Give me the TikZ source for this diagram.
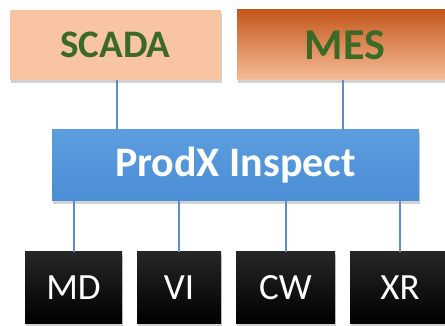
\documentclass[tikz,border=0pt]{standalone}
\usepackage{fontspec}
\setmainfont{Carlito}
\usetikzlibrary{shadows}
\definecolor{peach}{HTML}{F8C4A2}
\definecolor{mestop}{HTML}{C4581C}
\definecolor{mesbot}{HTML}{F6BC98}
\definecolor{txtgreen}{HTML}{3B6A26}
\definecolor{boxblue}{HTML}{4A8ED6}
\definecolor{boxbluetop}{HTML}{5C9DDE}
\definecolor{linkblue}{HTML}{5B8FC9}
\tikzset{
  box/.style={inner sep=0pt, drop shadow={opacity=0.35, shadow xshift=1pt, shadow yshift=-3pt}},
  topbox/.style={box, minimum height=70pt, font=\fontsize{39}{39}\selectfont\bfseries, text=txtgreen},
  devbox/.style={box, minimum height=71pt, font=\fontsize{37}{37}\selectfont, text=white, top color=black!85, bottom color=black},
  link/.style={draw=linkblue, line width=2pt}
}
\begin{document}
\begin{tikzpicture}[x=1pt,y=-1pt]
\useasboundingbox[fill=white] (0,0) rectangle (445,326);
\node[topbox, fill=peach, minimum width=211pt] (scada) at (115.5,45) {SCADA};
\node[topbox, top color=mestop, bottom color=mesbot, minimum width=216pt, font=\fontsize{44}{44}\selectfont\bfseries] (mes) at (345,45) {MES};
\node[box, top color=boxbluetop, bottom color=boxblue, minimum width=367pt, minimum height=71pt, font=\fontsize{42}{42}\selectfont\bfseries, text=white] (prodx) at (235.5,165.5) {ProdX Inspect};
\node[devbox, minimum width=97pt] (md) at (73.5,287.5) {MD};
\node[devbox, minimum width=84pt] (vi) at (179,287.5) {VI};
\node[devbox, minimum width=99pt] (cw) at (285.5,287.5) {CW};
\node[devbox, minimum width=100pt] (xr) at (400,287.5) {XR};
\draw[link] ([xshift=1.5pt]scada.south) -- ([xshift=1.5pt]scada.south |- prodx.north);
\draw[link] ([xshift=-2pt]mes.south) -- ([xshift=-2pt]mes.south |- prodx.north);
\foreach \n in {md,vi,cw,xr} {
  \draw[link] (\n.north) -- (\n.north |- prodx.south);
}
\end{tikzpicture}
\end{document}
